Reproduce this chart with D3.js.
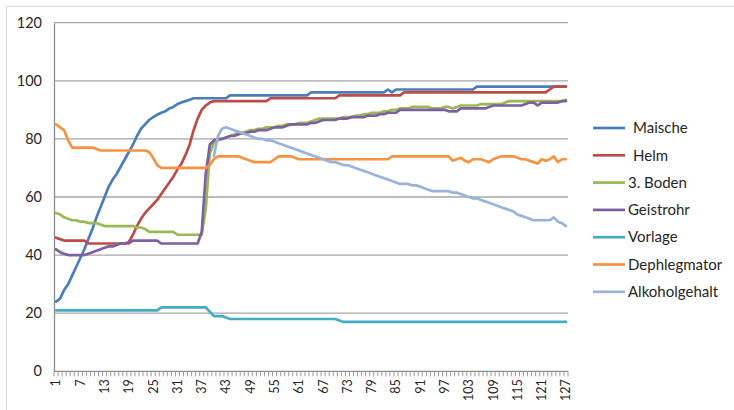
<!DOCTYPE html>
<html>
<head>
<meta charset="utf-8">
<script src="https://cdn.jsdelivr.net/npm/d3@7"></script>
<style>
  html, body { margin: 0; padding: 0; background: #ffffff; }
  svg { display: block; }
  text { font-family: Lato, "Open Sans", sans-serif; fill: #262626; }
</style>
</head>
<body>
<svg id="chart" width="734" height="410"></svg>
<script>
// Messpunkte 1..127
const categories = d3.range(1, 128);
const xTickLabels = d3.range(1, 128, 6);
const yTickLabels = [0, 20, 40, 60, 80, 100, 120];

const seriesNames = ["Maische", "Helm", "3. Boden", "Geistrohr", "Vorlage", "Dephlegmator", "Alkoholgehalt"];
const seriesColors = ["#4a7ebb", "#be4b48", "#98b954", "#7d60a0", "#46aac5", "#f69240", "#9ab3da"];

const maische = [
  24, 25, 28, 30, 33, 36, 39, 42, 45.5, 49,
  53, 56.5, 60, 63.5, 66, 68, 70.5, 73, 75.5, 78,
  81, 83.5, 85, 86.5, 87.5, 88.3, 89, 89.5, 90.5, 91,
  92, 92.5, 93, 93.5, 94, 94, 94, 94, 94, 94,
  94, 94, 94, 95, 95, 95, 95, 95, 95, 95,
  95, 95, 95, 95, 95, 95, 95, 95, 95, 95,
  95, 95, 95, 96, 96, 96, 96, 96, 96, 96,
  96, 96, 96, 96, 96, 96, 96, 96, 96, 96,
  96, 96, 97, 96, 97, 97, 97, 97, 97, 97,
  97, 97, 97, 97, 97, 97, 97, 97, 97, 97,
  97, 97, 97, 97, 98, 98, 98, 98, 98, 98,
  98, 98, 98, 98, 98, 98, 98, 98, 98, 98,
  98, 98, 98, 98, 98, 98, 98
];

const helm = [
  46, 45.5, 45, 45, 45, 45, 45, 45, 44, 44,
  44, 44, 44, 44, 44, 44, 44, 44, 44.5, 47,
  50, 52.5, 54.5, 56, 57.5, 59, 61, 63, 65, 67,
  69.5, 71.5, 74.5, 78, 83, 87, 90, 91.5, 92.5, 93,
  93, 93, 93, 93, 93, 93, 93, 93, 93, 93,
  93, 93, 93, 94, 94, 94, 94, 94, 94, 94,
  94, 94, 94, 94, 94, 94, 94, 94, 94, 94,
  95, 95, 95, 95, 95, 95, 95, 95, 95, 95,
  95, 95, 95, 95, 95, 95, 96, 96, 96, 96,
  96, 96, 96, 96, 96, 96, 96, 96, 96, 96,
  96, 96, 96, 96, 96, 96, 96, 96, 96, 96,
  96, 96, 96, 96, 96, 96, 96, 96, 96, 96,
  96, 96, 97, 98, 98, 98, 98
];

const boden3 = [
  54.5, 54, 53, 52.5, 52, 52, 51.5, 51.5, 51, 51,
  51, 50.5, 50, 50, 50, 50, 50, 50, 50, 50,
  49.5, 49.5, 49, 48, 48, 48, 48, 48, 48, 48,
  47, 47, 47, 47, 47, 47, 47, 56, 75, 78.5,
  79.5, 80, 80.5, 81, 81.5, 82, 82, 82.5, 83, 83,
  83.5, 83.5, 84, 84, 84, 84.5, 84.5, 85, 85, 85,
  85.5, 85.5, 85.5, 86, 86.5, 87, 87, 87, 87, 87,
  87, 87.5, 87.5, 87.5, 88, 88, 88.5, 88.5, 89, 89,
  89, 89.5, 89.5, 90, 90, 90.5, 90.5, 90.5, 91, 91,
  91, 91, 91, 90.5, 90.5, 90.5, 91, 91, 90.5, 91,
  91.5, 91.5, 91.5, 91.5, 91.5, 92, 92, 92, 92, 92,
  92, 92.5, 93, 93, 93, 93, 93, 93, 93, 93,
  93, 93, 93, 93, 93, 93, 93.5
];

const geistrohr = [
  42, 41, 40.5, 40, 40, 40, 40, 40, 40.5, 41,
  41.5, 42, 42.5, 43, 43, 43.5, 44, 44, 44, 45,
  45, 45, 45, 45, 45, 45, 44, 44, 44, 44,
  44, 44, 44, 44, 44, 44, 48, 68, 78, 79.5,
  80, 80, 80.5, 81, 81, 81.5, 82, 82, 82.5, 82.5,
  83, 83, 83, 83.5, 84, 84, 84, 84.5, 85, 85,
  85, 85, 85, 85.5, 85.5, 86, 86.5, 86.5, 86.5, 86.5,
  87, 87, 87, 87.5, 87.5, 87.5, 87.5, 88, 88, 88,
  88.5, 88.5, 89, 89, 89, 90, 90, 90, 90, 90,
  90, 90, 90, 90, 90, 90, 90, 89.5, 89.5, 89.5,
  90.5, 90.5, 90.5, 90.5, 90.5, 90.5, 90.5, 91, 91.5, 91.5,
  91.5, 91.5, 91.5, 91.5, 91.5, 91.5, 92, 92.5, 92.5, 91.5,
  92.5, 92.5, 92.5, 92.5, 92.5, 93, 93
];

const vorlage = [
  21, 21, 21, 21, 21, 21, 21, 21, 21, 21,
  21, 21, 21, 21, 21, 21, 21, 21, 21, 21,
  21, 21, 21, 21, 21, 21, 22, 22, 22, 22,
  22, 22, 22, 22, 22, 22, 22, 22, 20.5, 19,
  19, 19, 18.5, 18, 18, 18, 18, 18, 18, 18,
  18, 18, 18, 18, 18, 18, 18, 18, 18, 18,
  18, 18, 18, 18, 18, 18, 18, 18, 18, 18,
  17.5, 17, 17, 17, 17, 17, 17, 17, 17, 17,
  17, 17, 17, 17, 17, 17, 17, 17, 17, 17,
  17, 17, 17, 17, 17, 17, 17, 17, 17, 17,
  17, 17, 17, 17, 17, 17, 17, 17, 17, 17,
  17, 17, 17, 17, 17, 17, 17, 17, 17, 17,
  17, 17, 17, 17, 17, 17, 17
];

const dephlegmator = [
  85, 84, 83, 79.5, 77, 77, 77, 77, 77, 77,
  76.5, 76, 76, 76, 76, 76, 76, 76, 76, 76,
  76, 76, 76, 75.5, 73.5, 71, 70, 70, 70, 70,
  70, 70, 70, 70, 70, 70, 70, 70, 71, 73,
  74, 74, 74, 74, 74, 74, 73.5, 73, 72.5, 72,
  72, 72, 72, 72, 73, 74, 74, 74, 74, 73.5,
  73, 73, 73, 73, 73, 73, 73, 73, 73, 73,
  73, 73, 73, 73, 73, 73, 73, 73, 73, 73,
  73, 73, 73, 74, 74, 74, 74, 74, 74, 74,
  74, 74, 74, 74, 74, 74, 74, 74, 72.5, 73,
  73.5, 72.5, 72, 73, 73, 73, 72.5, 72, 73, 73.5,
  74, 74, 74, 74, 73.5, 73, 73, 72.5, 72, 71.5,
  73, 72.5, 73, 74, 72, 73, 73
];

const alkoholgehalt = [
  null, null, null, null, null, null, null, null, null, null,
  null, null, null, null, null, null, null, null, null, null,
  null, null, null, null, null, null, null, null, null, null,
  null, null, null, null, null, null, null, null, null, 74,
  81, 83.5, 84, 83.5, 83, 82.5, 82, 81.5, 81, 80.5,
  80, 80, 79.5, 79.5, 79, 78.5, 78, 77.5, 77, 76.5,
  76, 75.5, 75, 74.5, 74, 73.5, 73, 72.5, 72, 72,
  71.5, 71, 71, 70.5, 70, 69.5, 69, 68.5, 68, 67.5,
  67, 66.5, 66, 65.5, 65, 64.5, 64.5, 64.5, 64, 64,
  63.5, 63, 62.5, 62, 62, 62, 62, 62, 61.5, 61.5,
  61, 60.5, 60, 59.5, 59.5, 59, 58.5, 58, 57.5, 57,
  56.5, 56, 55.5, 55, 54, 53.5, 53, 52.5, 52, 52,
  52, 52, 52, 53, 51.5, 51, 50
];

const seriesValues = [maische, helm, boden3, geistrohr, vorlage, dephlegmator, alkoholgehalt];

const svg = d3.select("#chart");

// Rahmen des Diagrammbereichs
svg.append("rect")
  .attr("x", 6.5).attr("y", 6.5)
  .attr("width", 760).attr("height", 440)
  .attr("fill", "none").attr("stroke", "#d9d9d9").attr("stroke-width", 1);

const plot = { left: 54, right: 568, top: 22.7, bottom: 371.3 };

const x = d3.scaleBand()
  .domain(categories)
  .range([plot.left, plot.right])
  .paddingInner(0).paddingOuter(0);
const xc = d => x(d) + x.bandwidth() / 2;

const y = d3.scaleLinear()
  .domain([0, 120])
  .range([plot.bottom, plot.top]);

// Gitterlinien
svg.append("g")
  .selectAll("line")
  .data(yTickLabels.filter(v => v > 0))
  .join("line")
  .attr("x1", plot.left).attr("x2", plot.right)
  .attr("y1", d => y(d)).attr("y2", d => y(d))
  .attr("stroke", "#a6a6a6").attr("stroke-width", 1.3);

// Y-Achse
const yAxis = svg.append("g")
  .attr("transform", `translate(${plot.left},0)`)
  .call(d3.axisLeft(y).tickValues(yTickLabels).tickSize(0).tickPadding(12));
yAxis.select(".domain").attr("stroke", "#8c8c8c").attr("stroke-width", 1.3);
yAxis.selectAll("text")
  .attr("font-family", "Lato, sans-serif")
  .attr("font-size", 14.5)
  .attr("fill", "#333333");

// X-Achse mit Teilstrichen zwischen den Kategorien
const xAxisG = svg.append("g").attr("transform", `translate(0,${plot.bottom})`);
xAxisG.append("line")
  .attr("x1", plot.left).attr("x2", plot.right)
  .attr("stroke", "#8c8c8c").attr("stroke-width", 1.3);
xAxisG.selectAll("line.tick")
  .data(categories.concat([128]))
  .join("line")
  .attr("class", "tick")
  .attr("x1", d => d <= 127 ? x(d) : plot.right)
  .attr("x2", d => d <= 127 ? x(d) : plot.right)
  .attr("y1", 0).attr("y2", 5)
  .attr("stroke", "#9a9a9a").attr("stroke-width", 1);
xAxisG.selectAll("text")
  .data(xTickLabels)
  .join("text")
  .attr("transform", d => `translate(${xc(d)},8) rotate(-90)`)
  .attr("dy", "0.35em")
  .attr("text-anchor", "end")
  .attr("font-size", 12.5)
  .attr("fill", "#333333")
  .text(d => d);

// Linien
const line = d3.line()
  .defined(d => d[1] !== null)
  .x(d => xc(d[0]))
  .y(d => y(d[1]));

seriesValues.forEach((vals, k) => {
  svg.append("path")
    .datum(categories.map((c, i) => [c, vals[i]]))
    .attr("fill", "none")
    .attr("stroke", seriesColors[k])
    .attr("stroke-width", 2.7)
    .attr("stroke-linejoin", "round")
    .attr("stroke-linecap", "round")
    .attr("d", line);
});

// Legende
const legendTextX = [633, 633, 628, 628, 628, 628, 628];
const legend = svg.append("g");
seriesNames.forEach((name, k) => {
  const ly = 128 + k * 27.3;
  legend.append("line")
    .attr("x1", 593).attr("x2", 625)
    .attr("y1", ly).attr("y2", ly)
    .attr("stroke", seriesColors[k]).attr("stroke-width", 2.7);
  legend.append("text")
    .attr("x", legendTextX[k]).attr("y", ly)
    .attr("dy", "0.35em")
    .attr("font-size", 15)
    .attr("fill", "#262626")
    .text(name);
});
</script>
</body>
</html>
